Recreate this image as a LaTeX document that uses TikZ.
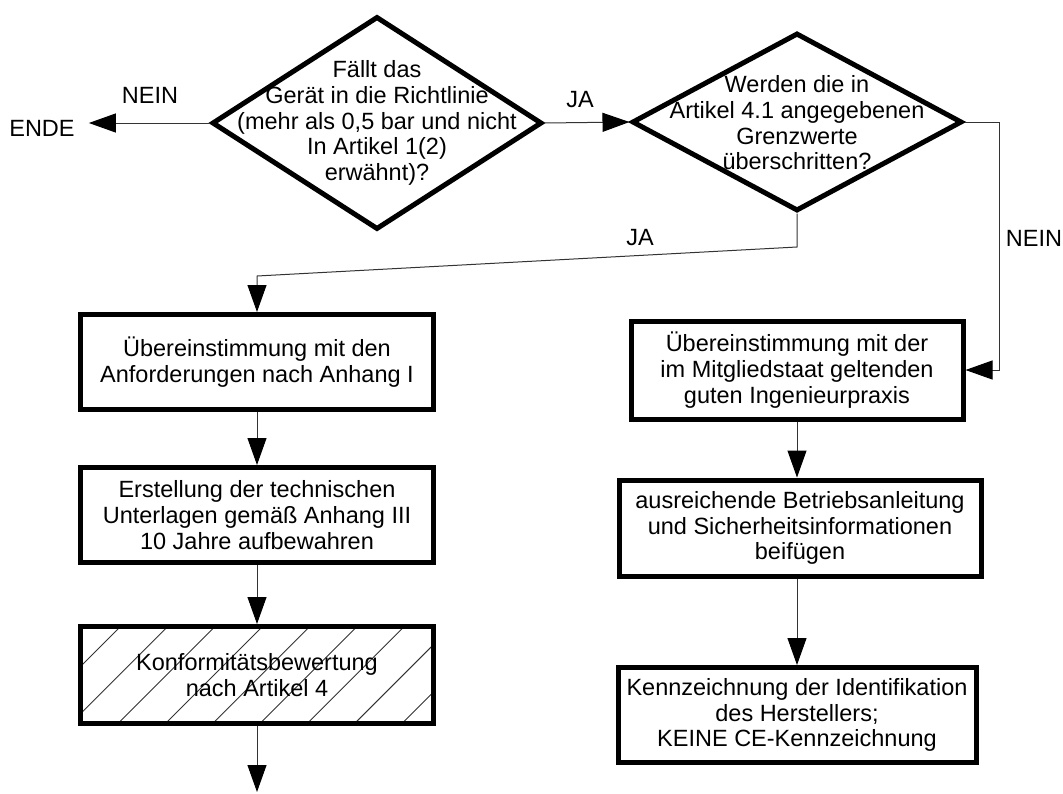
\documentclass[tikz,border=0pt]{standalone}
\usepackage{fontspec}
\setmainfont{Liberation Sans}
\usetikzlibrary{arrows.meta,shapes.geometric}
\begin{document}
\begin{tikzpicture}[x=1pt,y=-1pt,
  every node/.style={font=\fontsize{23.5}{25.7}\selectfont, align=center, inner sep=0pt},
  stepbox/.style={draw=black, line width=5pt, rectangle},
  decision/.style={draw=black, line width=5pt, diamond},
  wire/.style={draw=black!80, line width=1pt},
  conn/.style={wire, -{Triangle[length=27pt,width=19pt,color=black]}},
  hatchline/.style={draw=black!80, line width=0.9pt},
  lbl/.style={inner sep=0pt}
]
\useasboundingbox (0,0) rectangle (1063,793);

% decisions
\node[decision, minimum width=330pt, minimum height=213pt] (d1) at (377,123) {};
\node (d1t) at (377,123) {Fällt das\\Gerät in die Richtlinie\\(mehr als 0,5 bar und nicht\\In Artikel 1(2)\\erwähnt)?};
\node[decision, minimum width=330pt, minimum height=178pt] (d2) at (797,122) {};
\node (d2t) at (797,123) {Werden die in\\Artikel 4.1 angegebenen\\Grenzwerte\\überschritten?};

% end label
\node[inner xsep=14pt] (ende) at (42,128) {ENDE};

% left column
\node[stepbox, minimum width=353pt, minimum height=95pt] (l1) at (257,362)
  {Übereinstimmung mit den\\Anforderungen nach Anhang I};
\node[stepbox, minimum width=353pt, minimum height=95pt] (l2) at (257,515)
  {Erstellung der technischen\\Unterlagen gemäß Anhang III\\10 Jahre aufbewahren};
\node[stepbox, minimum width=353pt, minimum height=97pt,
  path picture={
    \foreach \k in {-4,...,8}
      \draw[hatchline] ([xshift=37.6pt+\k*47.3pt]path picture bounding box.south west) -- ++(110,-110);
  }] (l3) at (257,675)
  {Konformitätsbewertung\\nach Artikel 4};
\coordinate (lout) at (257,792);

% right column
\node[stepbox, minimum width=332pt, minimum height=98pt] (r1) at (797,370)
  {Übereinstimmung mit der\\im Mitgliedstaat geltenden\\guten Ingenieurpraxis};
\node[stepbox, minimum width=362pt, minimum height=96pt] (r2) at (800,528)
  {ausreichende Betriebsanleitung\\und Sicherheitsinformationen\\beifügen};
\node[stepbox, minimum width=358pt, minimum height=95pt] (r3) at (797,715)
  {Kennzeichnung der Identifikation\\des Herstellers;\\KEINE CE-Kennzeichnung};

% bend points of the JA branch
\coordinate (j1) at (797,247);
\coordinate (j2) at (257,276);

% connectors
\draw[conn] (d1.west) -- (d1.west -| ende.east);
\draw[conn] (d1.east) -- (d2.west);
\draw[conn] (d2.east) -- ++(35,0) |- (r1.east);
\draw[conn] (d2.south) -- (j1) -- (j2) -- (l1.north);
\draw[conn] (l1.south) -- (l2.north);
\draw[conn] (l2.south) -- (l3.north);
\draw[conn] (l3.south) -- (lout);
\draw[conn] (r1.south) -- (r1.south |- r2.north);
\draw[conn] (r2.south -| r1.south) -- (r1.south |- r3.north);

% branch labels
\node[lbl] (nein1) at (150,95) {NEIN};
\node[lbl] (ja1) at (580,100) {JA};
\node[lbl] (ja2) at (640,238) {JA};
\node[lbl] (nein2) at (1034,238) {NEIN};
\end{tikzpicture}
\end{document}
